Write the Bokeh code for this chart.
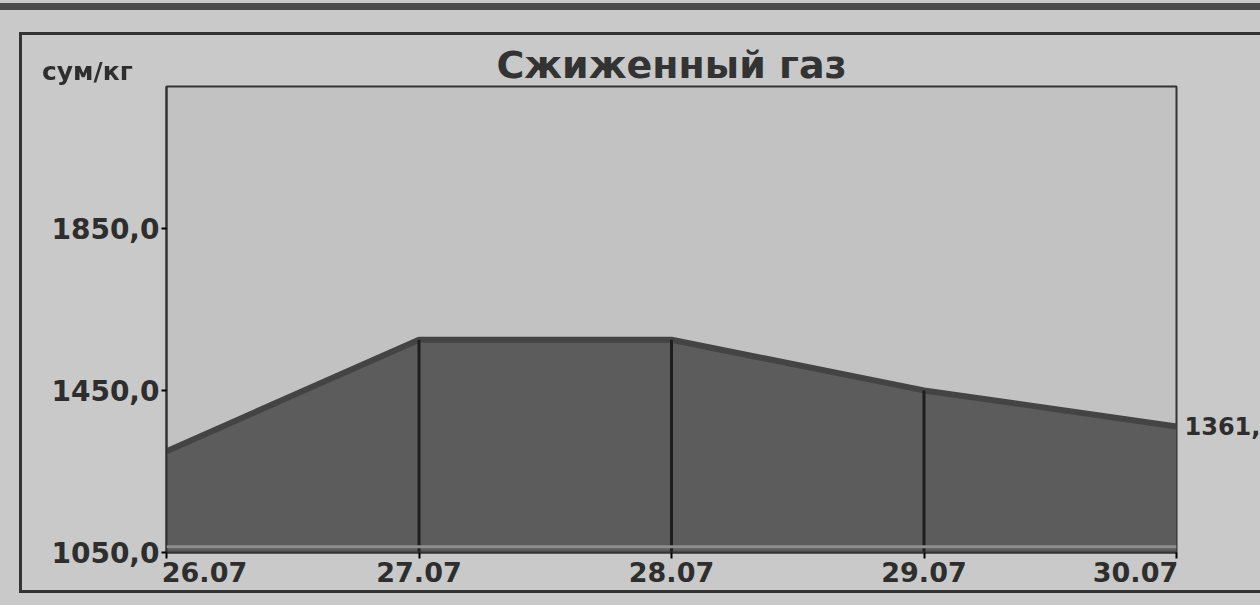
from bokeh.plotting import figure
from bokeh.layouts import column
from bokeh.models import (FixedTicker, Span, Range1d, GlobalInlineStyleSheet, LinearAxis,
                          CustomJSTickFormatter, Div)
from bokeh.embed import file_html
from bokeh.resources import INLINE

# ---- data ----
dates = ["26.07", "27.07", "28.07", "29.07", "30.07"]
prices = [1300, 1575, 1575, 1450, 1361]
y_ticks = [1050, 1450, 1850]
y_tick_labels = ["1050,0", "1450,0", "1850,0"]
title_text = "Сжиженный газ"
unit_text = "сум/кг"

x = list(range(len(dates)))
y_start, y_end = 1050, 2200

FONT = "DejaVu Sans"
DARK = "#2e2e2e"

BL, FW, BR = 144, 1010, 110          # left border, frame width, right border (px)
px_per_day = FW / (x[-1] - x[0])

p = figure(width=BL + FW + BR, height=561, output_backend="svg", toolbar_location=None,
           x_range=Range1d(x[0], x[-1]), y_range=Range1d(y_start, y_end),
           min_border_left=BL, min_border_right=BR, min_border_top=51, min_border_bottom=44)

p.stylesheets = [GlobalInlineStyleSheet(css=(
    "body { overflow: hidden; background: linear-gradient(to bottom, #c9c9c9 0px, #c9c9c9 3px, "
    "#4a4a4a 3px, #4a4a4a 10px, #c9c9c9 10px) #c9c9c9; }"))]
p.styles = {"margin-left": "19px", "margin-top": "32px",
            "border-left": "3px solid #333333", "border-top": "3px solid #333333",
            "border-bottom": "3px solid #333333"}

p.background_fill_color = "#c2c2c2"
p.border_fill_color = "#c9c9c9"
p.outline_line_color = "#333333"
p.outline_line_width = 2
p.xgrid.visible = False
p.ygrid.visible = False

p.title.text = title_text
p.title.align = "center"
p.title.text_font = FONT
p.title.text_font_size = "38px"
p.title.text_font_style = "bold"
p.title.text_color = "#333333"
p.title.standoff = 0

# area
p.varea(x=x, y1=[y_start] * len(x), y2=prices, fill_color="#5c5c5c")
p.line(x=x, y=prices, line_color="#444444", line_width=6)
p.segment(x0=x[1:-1], y0=[y_start] * (len(x) - 2), x1=x[1:-1], y1=prices[1:-1],
          line_color="#1e1e1e", line_width=3)
p.add_layout(Span(location=y_start + 14, dimension="width", line_color="#8e8e8e", line_width=3))

# y axis
p.yaxis.ticker = FixedTicker(ticks=y_ticks)
p.yaxis.major_label_overrides = {t: s for t, s in zip(y_ticks, y_tick_labels)}
p.yaxis.major_label_text_font = FONT
p.yaxis.major_label_text_font_size = "28px"
p.yaxis.major_label_text_font_style = "bold"
p.yaxis.major_label_text_color = DARK
p.yaxis.axis_line_color = "#333333"
p.yaxis.axis_line_width = 2
p.yaxis.major_tick_in = 0
p.yaxis.major_tick_out = 5
p.yaxis.major_tick_line_width = 2
p.yaxis.major_label_standoff = 2
p.yaxis.minor_tick_line_color = None

# x axis: tick marks only
p.xaxis.ticker = FixedTicker(ticks=x)
p.xaxis.formatter = CustomJSTickFormatter(code="return ''")
p.xaxis.major_label_text_font_size = "1px"
p.xaxis.major_label_standoff = 0
p.xaxis.axis_line_color = "#333333"
p.xaxis.axis_line_width = 2
p.xaxis.major_tick_in = 0
p.xaxis.major_tick_out = 6
p.xaxis.major_tick_line_width = 2
p.xaxis.minor_tick_line_color = None

# x axis: date labels; the end labels sit inside the frame edges as in the original
label_pos = [float(v) for v in x]
label_pos[0] = x[0] + 38 / px_per_day
label_pos[-1] = x[-1] - 41 / px_per_day
date_axis = LinearAxis(ticker=FixedTicker(ticks=label_pos),
                       formatter=CustomJSTickFormatter(args=dict(labels=dates), code="return labels[index]"),
                       axis_line_color=None, major_tick_line_color=None, minor_tick_line_color=None,
                       major_tick_in=0, major_tick_out=0, major_label_standoff=3,
                       major_label_text_font=FONT, major_label_text_font_size="27px",
                       major_label_text_font_style="bold", major_label_text_color=DARK)
p.add_layout(date_axis, "below")

# right axis: last value label
last = prices[-1]
last_axis = LinearAxis(ticker=FixedTicker(ticks=[last]),
                       major_label_overrides={last: f"{last:.1f}".replace(".", ",")},
                       axis_line_color=None, major_tick_line_color=None, minor_tick_line_color=None,
                       major_tick_in=0, major_tick_out=0, major_label_standoff=8,
                       major_label_text_font=FONT, major_label_text_font_size="24px",
                       major_label_text_font_style="bold", major_label_text_color=DARK)
p.add_layout(last_axis, "right")

# unit text at top-left
unit_div = Div(text=unit_text, styles={"position": "fixed", "left": "42px", "top": "54px",
                                       "font-family": FONT, "font-weight": "bold",
                                       "font-size": "25px", "color": DARK, "margin": "0"})

layout = column(p, unit_div)
open("out.html", "w").write(file_html(layout, INLINE))
